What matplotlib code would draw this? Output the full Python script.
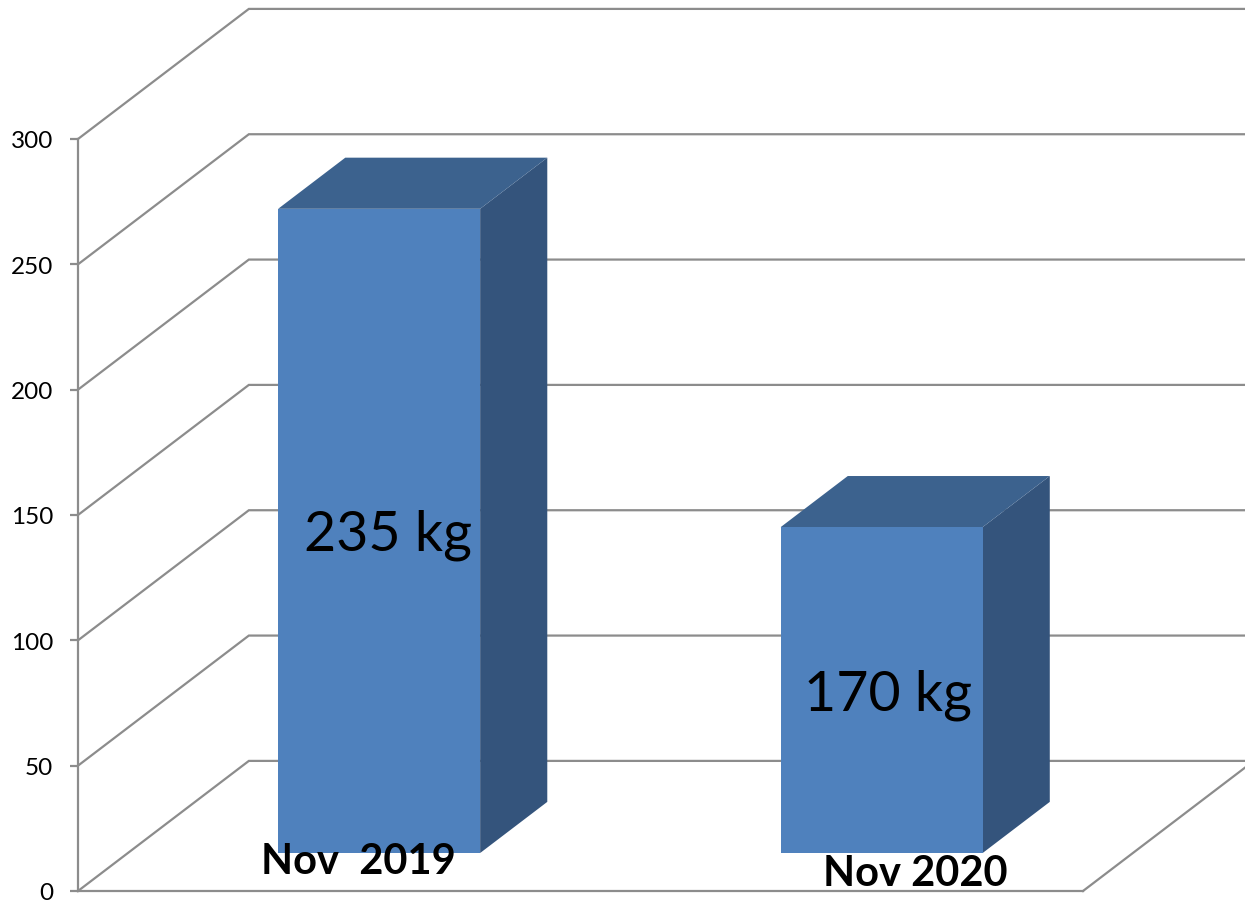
import matplotlib.pyplot as plt
from matplotlib.patches import Polygon

# data
categories = ["Nov  2019", "Nov 2020"]
bar_heights = [257, 130]
bar_labels = ["235 kg", "170 kg"]
y_ticks = [0, 50, 100, 150, 200, 250, 300]

plt.rcParams["font.family"] = ["Lato", "DejaVu Sans"]

fig = plt.figure(figsize=(12.45, 9.03), dpi=100)
ax = fig.add_axes([78 / 1245, 11 / 903, 1005 / 1245, 752 / 903])
ax.set_xlim(0, 2)
ax.set_ylim(0, 300)

grid_col = "#8c8c8c"
# depth vector of the fake 3d box, in data units
DX, DY = 0.340, 51.9

# back wall gridlines + side wall
for v in y_ticks:
    ax.plot([0, DX, 2 + DX], [v, v + DY, v + DY], color=grid_col, lw=1.6,
            clip_on=False, zorder=1, solid_joinstyle="miter")
# floor right edge
ax.plot([2, 2 + DX], [0, DY], color=grid_col, lw=1.6, clip_on=False, zorder=1)

front_col = "#4f81bd"
top_col = "#3c628e"
side_col = "#34547c"
half_w = 0.201
d_f, d_b = 0.292, 0.685

for i, h in enumerate(bar_heights):
    c = i + 0.5
    x0 = c - half_w + d_f * DX
    x1 = c + half_w + d_f * DX
    y0 = d_f * DY
    y1 = h + d_f * DY
    ex = (d_b - d_f) * DX
    ey = (d_b - d_f) * DY
    front = [(x0, y0), (x1, y0), (x1, y1), (x0, y1)]
    top = [(x0, y1), (x1, y1), (x1 + ex, y1 + ey), (x0 + ex, y1 + ey)]
    side = [(x1, y0), (x1 + ex, y0 + ey), (x1 + ex, y1 + ey), (x1, y1)]
    ax.add_patch(Polygon(side, closed=True, fc=side_col, ec="none", zorder=3, clip_on=False))
    ax.add_patch(Polygon(top, closed=True, fc=top_col, ec="none", zorder=3, clip_on=False))
    ax.add_patch(Polygon(front, closed=True, fc=front_col, ec="none", zorder=4, clip_on=False))

# value labels on the bars
label_pos = [(0.616, 142.4), (1.612, 78.6)]
for (x, y), t in zip(label_pos, bar_labels):
    ax.text(x, y, t, ha="center", va="center", fontsize=40, color="black", zorder=5)

# category labels
cat_pos = [(0.557, 7.0), (1.666, 2.4)]
for (x, y), t in zip(cat_pos, categories):
    ax.text(x, y, t, ha="center", va="baseline", fontsize=30, fontweight="bold",
            color="black", zorder=5, clip_on=False)

for s in ["top", "right"]:
    ax.spines[s].set_visible(False)
ax.spines["left"].set_color(grid_col)
ax.spines["bottom"].set_color(grid_col)
ax.spines["left"].set_linewidth(1.6)
ax.spines["bottom"].set_linewidth(1.6)
ax.spines["left"].set_zorder(2)
ax.spines["bottom"].set_zorder(2)
ax.set_xticks([])
ax.set_yticks(y_ticks)
ax.tick_params(axis="y", length=6, width=1.6, color=grid_col, labelsize=17.5, pad=12)
ax.patch.set_alpha(0)

fig.savefig("out.png", dpi=100)
